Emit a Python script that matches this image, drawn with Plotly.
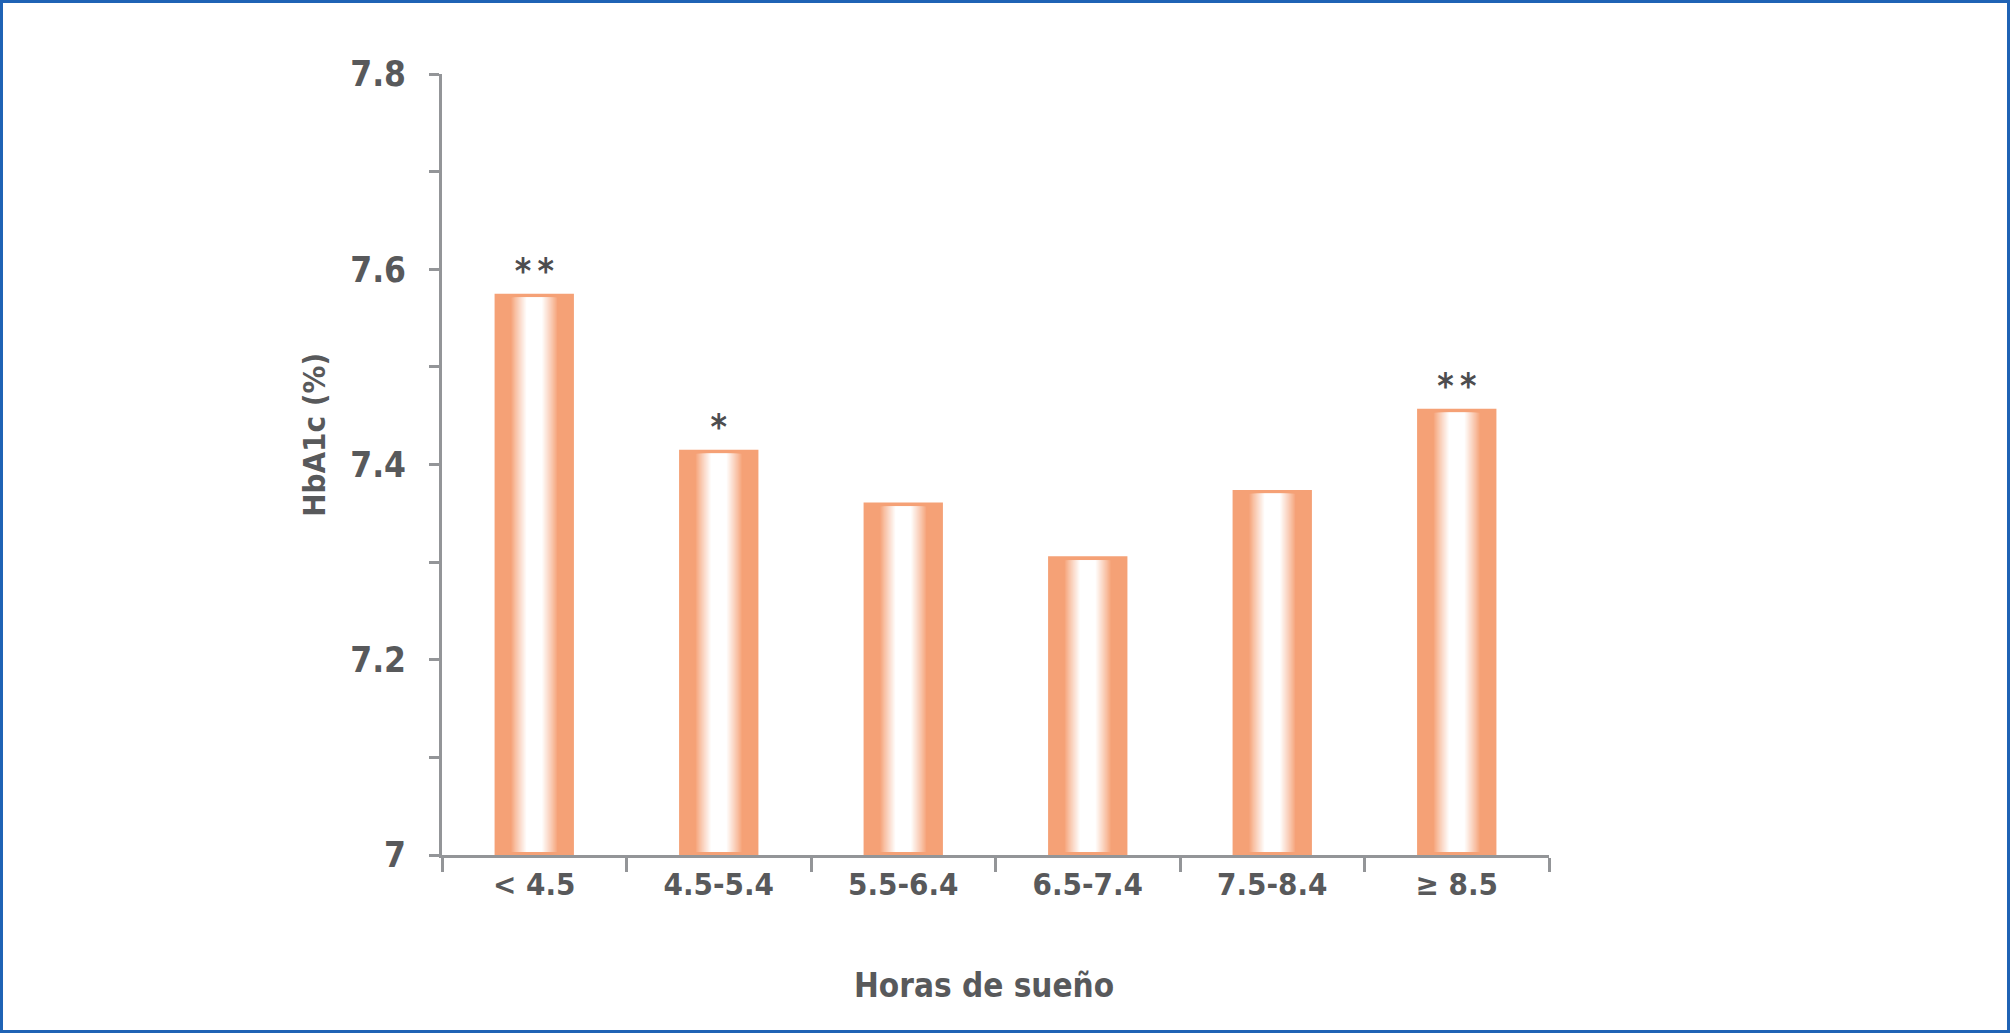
import plotly.graph_objects as go

# data
horas = ["< 4.5", "4.5-5.4", "5.5-6.4", "6.5-7.4", "7.5-8.4", "≥ 8.5"]
hba1c = [7.575, 7.415, 7.361, 7.306, 7.374, 7.457]
signif = ["*\u2009*", "*", "", "", "", "*\u2009*"]

y_tickvals = [7.0, 7.1, 7.2, 7.3, 7.4, 7.5, 7.6, 7.7, 7.8]
y_ticktext = ["7", "", "7.2", "", "7.4", "", "7.6", "", "7.8"]

W, H = 2011, 1034
M = dict(l=442, r=462, t=74, b=179)
PW, PH = W - M["l"] - M["r"], H - M["t"] - M["b"]

FONT = "Liberation Sans Narrow, DejaVu Sans Condensed, Arial Narrow, sans-serif"
TXT = "#58595B"
AXIS = "#939598"
ORANGE = (245, 161, 118)
BAR_W = 0.43


def blend(t):
    # t=0 -> orange, t=1 -> white
    r, g, b = (round(c + (255 - c) * t) for c in ORANGE)
    return f"rgb({r},{g},{b})"


fig = go.Figure()

# outer bar, carries the significance marks
fig.add_trace(go.Bar(
    x=horas, y=[v - 7 for v in hba1c], base=7, width=BAR_W,
    marker=dict(color=blend(0), line=dict(width=0)),
    text=signif, textposition="outside", cliponaxis=False,
    textfont=dict(family=FONT, size=35, color="#4D4D4F", weight="bold"),
    hoverinfo="skip", showlegend=False,
))

# fake a horizontal gradient: narrower and lighter bars on top of each other
steps = 18
for i in range(1, steps + 1):
    frac = 0.6 - (0.6 - 0.2) * i / steps
    t = (i / steps) ** 0.9
    fig.add_trace(go.Bar(
        x=horas, y=[v - 7 - 0.007 for v in hba1c], base=7.003,
        width=BAR_W * frac,
        marker=dict(color=blend(t), line=dict(width=0)),
        hoverinfo="skip", showlegend=False,
    ))

fig.update_layout(
    width=W, height=H, margin=M,
    barmode="overlay",
    plot_bgcolor="white", paper_bgcolor="white",
    font=dict(family=FONT, color=TXT),
    shapes=[dict(
        type="rect", xref="paper", yref="paper",
        x0=-(M["l"] - 1.5) / PW,
        x1=1 + (M["r"] - 2.5) / PW,
        y0=-(M["b"] - 2.5) / PH,
        y1=1 + (M["t"] - 1.5) / PH,
        line=dict(color="#1F63B5", width=3),
    )],
    annotations=[
        dict(text="HbA1c (%)", textangle=-90, xref="paper", yref="paper",
             x=0, xshift=-128, y=0.538, xanchor="center", yanchor="middle",
             showarrow=False,
             font=dict(family=FONT, size=31, color=TXT, weight="bold")),
        dict(text="Horas de sueño", xref="paper", yref="paper",
             x=0.49, y=0, yshift=-130, xanchor="center", yanchor="middle",
             showarrow=False,
             font=dict(family=FONT, size=33, color=TXT, weight="bold")),
    ],
)

fig.update_xaxes(
    type="category", tickson="boundaries",
    showline=True, linecolor=AXIS, linewidth=3,
    ticks="outside", ticklen=14, tickwidth=3, tickcolor=AXIS,
    showgrid=False, zeroline=False,
    tickfont=dict(family=FONT, size=31, color=TXT, weight="bold"),
)

fig.update_yaxes(
    range=[7, 7.8], tickvals=y_tickvals, ticktext=y_ticktext,
    showline=True, linecolor=AXIS, linewidth=3,
    ticks="outside", ticklen=10, tickwidth=3, tickcolor=AXIS,
    ticklabelstandoff=16,
    showgrid=False, zeroline=False,
    tickfont=dict(family=FONT, size=35, color=TXT, weight="bold"),
)

fig.write_html("out.html", config={"displayModeBar": False},
               post_script="document.body.style.margin='0';")
